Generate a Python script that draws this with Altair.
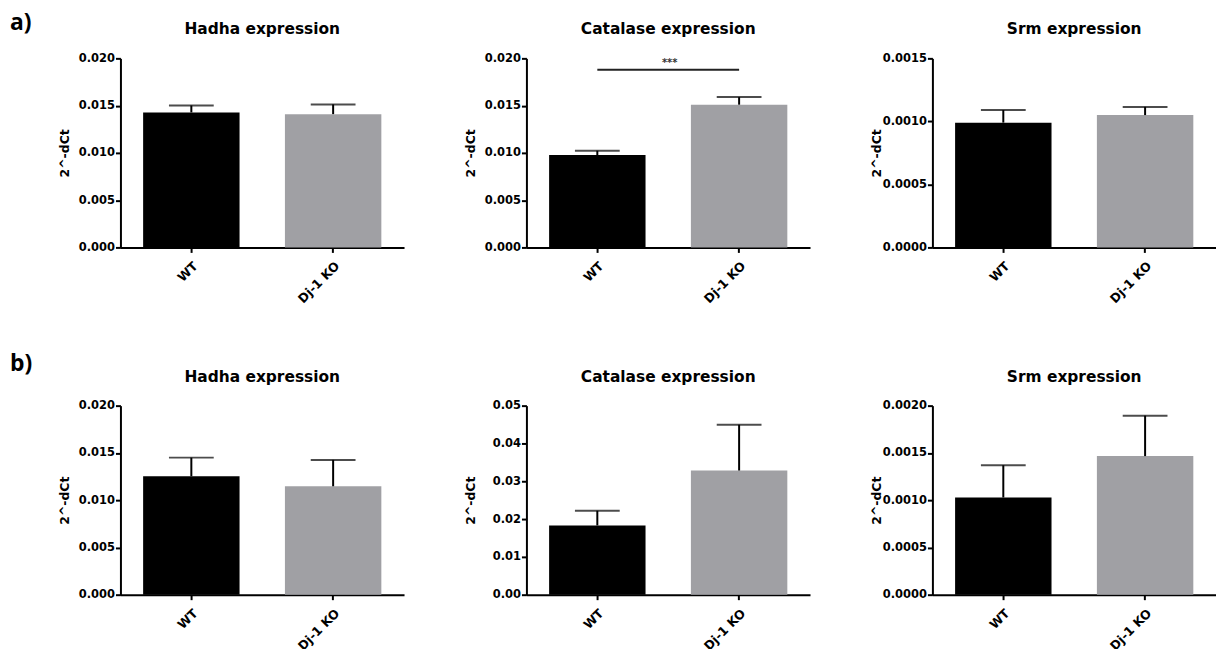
import altair as alt
import pandas as pd

# ---- data ----
row_labels = ["a)", "b)"]
genes = ["Hadha", "Catalase", "Srm"]
groups = ["WT", "Dj-1 KO"]

a_hadha_mean = [0.01428, 0.01410]
a_hadha_upper = [0.01502, 0.01513]
a_catalase_mean = [0.00977, 0.01510]
a_catalase_upper = [0.01023, 0.01590]
a_srm_mean = [0.00099, 0.00105]
a_srm_upper = [0.00109, 0.001115]

b_hadha_mean = [0.01253, 0.01147]
b_hadha_upper = [0.01450, 0.01426]
b_catalase_mean = [0.01832, 0.03284]
b_catalase_upper = [0.02220, 0.04495]
b_srm_mean = [0.001028, 0.001466]
b_srm_upper = [0.00137, 0.001894]

ticks_020 = [0, 0.005, 0.010, 0.015, 0.020]
ticks_0015 = [0, 0.0005, 0.0010, 0.0015]
ticks_05 = [0, 0.01, 0.02, 0.03, 0.04, 0.05]
ticks_0020 = [0, 0.0005, 0.0010, 0.0015, 0.0020]

sig_pair = ["WT", "Dj-1 KO"]
sig_level = [0.0188]
sig_text = ["***"]

bar_colors = ["#000000", "#a0a0a4"]

W, H = 285, 190
FONT = "DejaVu Sans"


def panel(gene, means, uppers, ticks, fmt, label, label_y, visible_label, sig=False):
    df = pd.DataFrame({"group": groups, "mean": means, "upper": uppers})
    xscale = alt.Scale(domain=groups, paddingInner=0.32, paddingOuter=0.16)
    yscale = alt.Scale(domain=[ticks[0], ticks[-1]], nice=False, zero=True)
    xaxis = alt.Axis(title=None, labelAngle=-45, labelFont=FONT, labelFontSize=12.5,
                     labelFontWeight="bold", labelColor="black", domainWidth=2,
                     domainColor="black", tickWidth=2, tickColor="black", tickSize=5,
                     labelPadding=7, labelOverlap=False)
    yaxis = alt.Axis(title="2^-dCt", values=ticks, format=fmt, labelFont=FONT,
                     labelFontSize=11.5, labelFontWeight="bold", labelColor="black",
                     titleFont=FONT, titleFontSize=12.5, titleFontWeight="bold",
                     titleColor="black", domainWidth=2, domainColor="black",
                     tickWidth=2, tickColor="black", tickSize=5, labelPadding=1,
                     minExtent=44, maxExtent=44, titlePadding=5, grid=False,
                     labelOverlap=False)
    X = alt.X("group:N", scale=xscale, axis=xaxis, sort=groups)
    base = alt.Chart(df).encode(x=X)
    bars = base.mark_bar().encode(
        y=alt.Y("mean:Q", scale=yscale, axis=yaxis),
        color=alt.Color("group:N", scale=alt.Scale(domain=groups, range=bar_colors), legend=None),
    )
    stem = base.mark_rule(color="black", strokeWidth=2).encode(
        y=alt.Y("mean:Q", scale=yscale, axis=yaxis), y2="upper:Q")
    cap = base.mark_tick(color="black", thickness=2, size=45).encode(
        y=alt.Y("upper:Q", scale=yscale, axis=yaxis))
    title = alt.Chart(pd.DataFrame({"t": [f"{gene} expression"]})).mark_text(
        font=FONT, fontSize=15.5, fontWeight="bold", color="black", align="center",
        baseline="alphabetic").encode(text="t:N", x=alt.value(W / 2), y=alt.value(-24))
    lab = alt.Chart(pd.DataFrame({"t": [label]})).mark_text(
        font="Open Sans", fontSize=23, fontWeight="bold", color="black", align="left",
        baseline="alphabetic", opacity=1 if visible_label else 0).encode(
        text="t:N", x=alt.value(-111 if visible_label else 0), y=alt.value(label_y))
    layers = [bars, stem, cap, title, lab]
    if sig:
        sdf = pd.DataFrame({"x1": [sig_pair[0]], "x2": [sig_pair[1]], "y": sig_level,
                            "t": sig_text})
        sbase = alt.Chart(sdf)
        srule = sbase.mark_rule(color="#222222", strokeWidth=2).encode(
            x=alt.X("x1:N", scale=xscale, axis=xaxis), x2="x2:N",
            y=alt.Y("y:Q", scale=yscale, axis=yaxis))
        stext = sbase.mark_text(font=FONT, fontSize=10, fontWeight="bold", color="#333333",
                                baseline="bottom", dy=-2).encode(
            text="t:N", x=alt.value(144), y=alt.Y("y:Q", scale=yscale, axis=yaxis))
        layers += [srule, stext]
    return alt.layer(*layers).properties(width=W, height=H)


row_a = alt.hconcat(
    panel(genes[0], a_hadha_mean, a_hadha_upper, ticks_020, ".3f", row_labels[0], -29, True),
    panel(genes[1], a_catalase_mean, a_catalase_upper, ticks_020, ".3f", row_labels[0], -29, False, sig=True),
    panel(genes[2], a_srm_mean, a_srm_upper, ticks_0015, ".4f", row_labels[0], -29, False),
    spacing=61,
)
row_b = alt.hconcat(
    panel(genes[0], b_hadha_mean, b_hadha_upper, ticks_020, ".3f", row_labels[1], -35, True),
    panel(genes[1], b_catalase_mean, b_catalase_upper, ticks_05, ".2f", row_labels[1], -35, False),
    panel(genes[2], b_srm_mean, b_srm_upper, ticks_0020, ".4f", row_labels[1], -35, False),
    spacing=61,
)

chart = alt.vconcat(row_a, row_b, spacing=47).properties(
    padding={"left": 2, "top": 2, "right": 0, "bottom": 0}
).configure(
    background="white",
    view=alt.ViewConfig(strokeWidth=0, stroke="transparent"),
)

chart.save("out.html", embed_options={"renderer": "svg", "actions": False})
